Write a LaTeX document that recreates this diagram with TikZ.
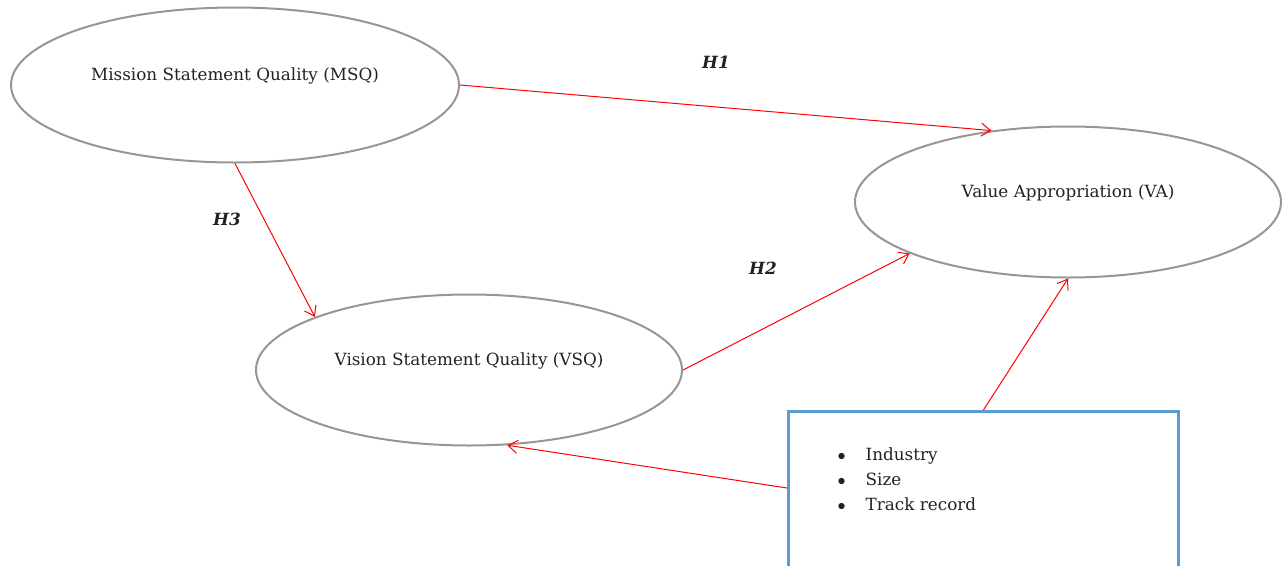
\documentclass[tikz,border=0pt]{standalone}
\usepackage{fontspec}
\setmainfont{DejaVu Serif}
\usetikzlibrary{shapes.geometric,arrows.meta}
\definecolor{ovalgray}{RGB}{150,150,150}
\definecolor{boxblue}{RGB}{91,155,213}
\definecolor{ink}{RGB}{34,34,34}
\newcommand{\hyp}[1]{\textbf{\textit{#1}}}
\newcommand{\txtsize}{\fontsize{12.6}{15}\selectfont}

\begin{document}
\begin{tikzpicture}[
        x=0.75pt, y=-0.75pt,
        construct/.style = {ellipse, draw=ovalgray, line width=1.5pt, inner sep=0pt,
                            minimum width=#1*0.75pt, minimum height=151*0.75pt},
        inner/.style = {yshift=7pt, text=ink, font=\txtsize},
        path/.style = {->, red, line width=0.75pt},
        hyp/.style = {text=ink, font=\txtsize},
        >={Straight Barb[angle=70:8.5pt]}
        ]
        \useasboundingbox (0,0) rectangle (1282,565);

        % constructs
        \node (msq) at (235,85)  [construct=448, minimum height=155*0.75pt,
                                  label={[inner]center:Mission Statement Quality (MSQ)}] {};
        \node (va)  at (1068,202) [construct=426, label={[inner]center:Value Appropriation (VA)}] {};
        \node (vsq) at (469,370) [construct=426, label={[inner]center:Vision Statement Quality (VSQ)}] {};

        % control variables
        \node (ctrl) at (787,410) [anchor=north west, rectangle, draw=boxblue, line width=2.2pt,
                                   minimum width=390*0.75pt, minimum height=220*0.75pt] {};
        \node (list) at (833,442) [anchor=north west, text=ink, font=\txtsize, align=left]
            {\begin{tabular}{@{}l@{\hspace{15pt}}l@{}}
             $\bullet$ & Industry\\[3.6pt]
             $\bullet$ & Size\\[3.6pt]
             $\bullet$ & Track record
             \end{tabular}};
        \coordinate (ctrlin) at ([yshift=-58.5pt]ctrl.north west);

        % hypotheses
        \draw[path] (msq.east) -- (va.137.5);
        \draw[path] (msq.south) -- (vsq.161);
        \draw[path] (vsq.east) -- (va.198.5);
        \draw[path] (ctrl.north) -- (va.south);
        \draw[path] (ctrlin) -- (vsq.297);

        \node (h1) at (716,62)  [hyp] {\hyp{H1}};
        \node (h2) at (763,268) [hyp] {\hyp{H2}};
        \node (h3) at (227,219) [hyp] {\hyp{H3}};
    \end{tikzpicture}
\end{document}
